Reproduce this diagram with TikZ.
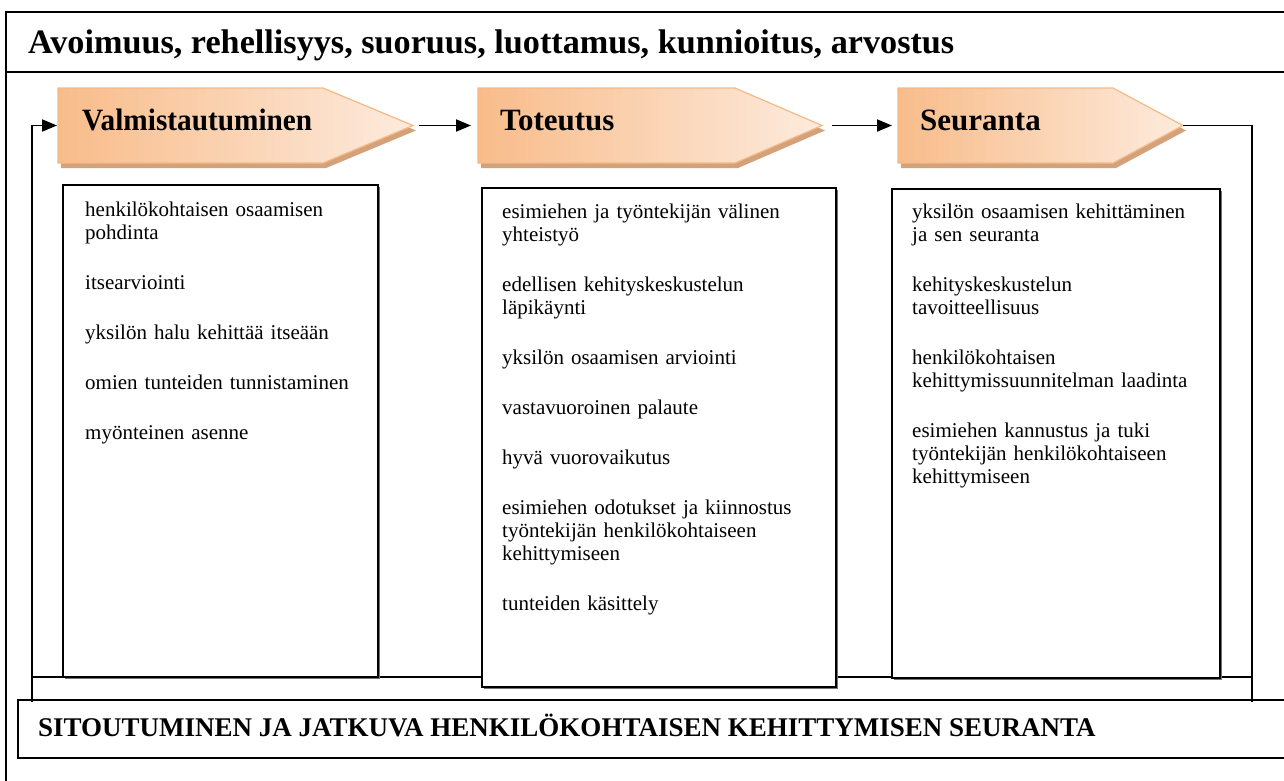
\documentclass[tikz,border=0pt]{standalone}
\usepackage{fontspec}
\setmainfont{Liberation Serif}
\usetikzlibrary{arrows.meta,shadows}

\definecolor{chevdark}{HTML}{F8BC8A}
\definecolor{chevlight}{HTML}{FDEBDD}
\definecolor{chevedge}{HTML}{F5B985}
\definecolor{chevshadow}{HTML}{D3A27B}

\begin{document}
\begin{tikzpicture}[x=1pt,y=-1pt,
  frame/.style={draw=black,line width=1.9pt},
  conn/.style={draw=black,line width=1.9pt},
  arr/.style={conn,-{Triangle[length=15pt,width=12pt]}},
  chevfill/.style={left color=chevdark,right color=chevlight,draw=chevedge,line width=1.2pt},
  chevshade/.style={fill=chevshadow},
  lbl/.style={font=\bfseries\fontsize{31}{36}\selectfont,inner sep=0pt,anchor=base west},
  panel/.style={draw=black,line width=1.6pt,fill=white,anchor=north west,inner sep=0pt,
    drop shadow={shadow xshift=2pt,shadow yshift=-2pt,fill=black!55,opacity=1}},
  items/.style={font=\fontsize{21}{23}\selectfont,inner sep=0pt,anchor=base west,
    align=left,text width=330pt}]

\clip (0,0) rectangle (1284,780);
\fill[white] (0,0) rectangle (1284,780);

% outer frame and title row
\draw[frame] (6,800) -- (6,12) -- (1300,12);
\draw[frame] (6,72) -- (1300,72);
\node[font=\bfseries\fontsize{34.2}{38}\selectfont,inner sep=0pt,anchor=base west] (title)
  at (28,53) {Avoimuus, rehellisyys, suoruus, luottamus, kunnioitus, arvostus};

% phase chevrons: shadow, then shaded body
\fill[chevshade] (61,93) -- (326,93) -- (416,130.5) -- (326,168) -- (61,168) -- cycle;
\path[chevfill] (58,88) -- (323,88) -- (413,125.5) -- (323,163) -- (58,163) -- cycle;
\fill[chevshade] (481,93) -- (738,93) -- (825,130.5) -- (738,168) -- (481,168) -- cycle;
\path[chevfill] (478,88) -- (735,88) -- (822,125.5) -- (735,163) -- (478,163) -- cycle;
\fill[chevshade] (901,93) -- (1116,93) -- (1186,130.5) -- (1116,168) -- (901,168) -- cycle;
\path[chevfill] (898,88) -- (1113,88) -- (1183,125.5) -- (1113,163) -- (898,163) -- cycle;

\coordinate (v-in) at (58,125.5);  \coordinate (v-tip) at (413,125.5);
\coordinate (t-in) at (478,125.5); \coordinate (t-tip) at (822,125.5);
\coordinate (s-in) at (898,125.5); \coordinate (s-tip) at (1183,125.5);

\node[lbl] (valm) at (82,130) {\scalebox{0.945}[1]{Valmistautuminen}};
\node[lbl] (tote) at (500,130) {Toteutus};
\node[lbl] (seur) at (920,130) {Seuranta};

% flow between the phases
\draw[arr,shorten <=6pt,shorten >=7pt] (v-tip) -- (t-in);
\draw[arr,shorten <=10pt,shorten >=6pt] (t-tip) -- (s-in);

% return loop from the last phase back to the first
\coordinate (rt) at (1252,125.5);
\coordinate (rb) at (1252,702);
\coordinate (lb) at (32,702);
\coordinate (lt) at (32,125.5);
\coordinate (ll) at (32,677);
\coordinate (rl) at (1252,677);
\draw[conn] (s-tip) -- (rt) -- (rb);
\draw[conn] (ll) -- (rl);
\draw[arr,shorten >=1pt] (lb) -- (lt) -- (v-in);

% content panels
\node[panel,minimum width=315pt,minimum height=492pt] (b1) at (62,184) {};
\node[panel,minimum width=354pt,minimum height=499pt] (b2) at (481,187) {};
\node[panel,minimum width=328pt,minimum height=489pt] (b3) at (891,188) {};

\node[items] (t1) at (85,216) {henkilökohtaisen osaamisen\\ pohdinta\\[27pt]
  itsearviointi\\[27pt]
  yksilön halu kehittää itseään\\[27pt]
  omien tunteiden tunnistaminen\\[27pt]
  myönteinen asenne};

\node[items] (t2) at (502,218) {esimiehen ja työntekijän välinen\\ yhteistyö\\[27pt]
  edellisen kehityskeskustelun\\ läpikäynti\\[27pt]
  yksilön osaamisen arviointi\\[27pt]
  vastavuoroinen palaute\\[27pt]
  hyvä vuorovaikutus\\[27pt]
  esimiehen odotukset ja kiinnostus\\ työntekijän henkilökohtaiseen\\ kehittymiseen\\[27pt]
  tunteiden käsittely};

\node[items] (t3) at (912,218) {yksilön osaamisen kehittäminen\\ ja sen seuranta\\[27pt]
  kehityskeskustelun\\ tavoitteellisuus\\[27pt]
  henkilökohtaisen\\ kehittymissuunnitelman laadinta\\[27pt]
  esimiehen kannustus ja tuki\\ työntekijän henkilökohtaiseen\\ kehittymiseen};

% commitment bar
\draw[frame] (1300,700) -- (18,700) -- (18,758) -- (1300,758);
\node[font=\bfseries\fontsize{27}{31}\selectfont,inner sep=0pt,anchor=base west] (commit)
  at (38,736) {SITOUTUMINEN JA JATKUVA HENKILÖKOHTAISEN KEHITTYMISEN SEURANTA};

\end{tikzpicture}
\end{document}
